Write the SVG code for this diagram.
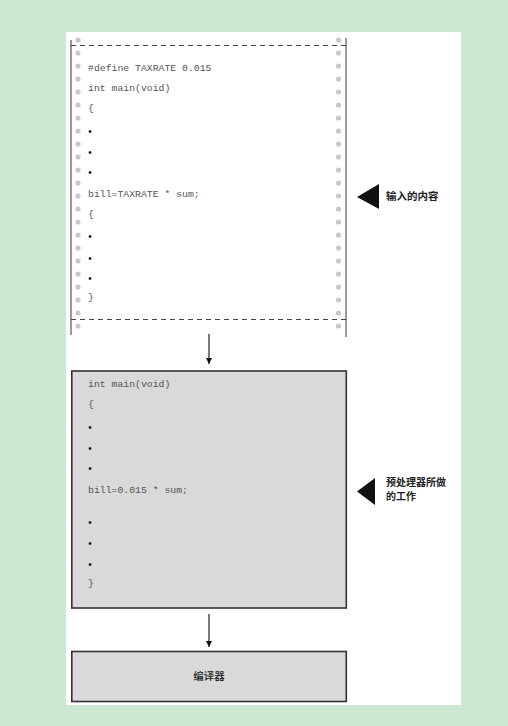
<svg xmlns="http://www.w3.org/2000/svg" width="508" height="726" viewBox="0 0 508 726">
<style>
.code{font-family:"Liberation Mono","Courier New",monospace;font-size:9.8px;fill:#555}
.bul{font-family:"Liberation Mono",monospace;font-size:10px;fill:#111}
.cjk{font-family:"Noto Sans CJK SC","Noto Sans CJK TC",sans-serif;font-size:10.5px;font-weight:600;fill:#222}
.box{fill:#d9d9d9;stroke:#333;stroke-width:1.6}
.edge{stroke:#555;stroke-width:1.2;fill:none}
.dash{stroke:#444;stroke-width:1;stroke-dasharray:5 4;fill:none}
.dot{fill:#c8c8c8}
.conn{stroke:#333;stroke-width:1.3;fill:none}
</style>
<defs>
<marker id="ah" viewBox="0 0 10 10" refX="10" refY="5" markerWidth="6" markerHeight="6" markerUnits="userSpaceOnUse" orient="auto">
<path d="M0,0 L10,5 L0,10 Z" fill="#111"/>
</marker>
<g id="dotcol">
<circle cx="0" cy="40" r="2.6"/><circle cx="0" cy="53" r="2.6"/><circle cx="0" cy="66" r="2.6"/><circle cx="0" cy="79" r="2.6"/><circle cx="0" cy="92" r="2.6"/><circle cx="0" cy="105" r="2.6"/><circle cx="0" cy="118" r="2.6"/><circle cx="0" cy="131" r="2.6"/><circle cx="0" cy="144" r="2.6"/><circle cx="0" cy="157" r="2.6"/><circle cx="0" cy="170" r="2.6"/><circle cx="0" cy="183" r="2.6"/><circle cx="0" cy="196" r="2.6"/><circle cx="0" cy="209" r="2.6"/><circle cx="0" cy="222" r="2.6"/><circle cx="0" cy="235" r="2.6"/><circle cx="0" cy="248" r="2.6"/><circle cx="0" cy="261" r="2.6"/><circle cx="0" cy="274" r="2.6"/><circle cx="0" cy="287" r="2.6"/><circle cx="0" cy="300" r="2.6"/><circle cx="0" cy="313" r="2.6"/><circle cx="0" cy="326" r="2.6"/>
</g>
</defs>
<rect x="0" y="0" width="508" height="726" fill="#cce8d0"/>
<rect x="66" y="32" width="395" height="673" fill="#ffffff"/>

<g id="input">
<line class="edge" x1="71" y1="40" x2="71" y2="335"/>
<line class="edge" x1="346" y1="38" x2="346" y2="337"/>
<line class="dash" x1="71" y1="45.5" x2="346" y2="45.5"/>
<line class="dash" x1="71" y1="319.5" x2="346" y2="319.5"/>
<use href="#dotcol" x="78" class="dot"/>
<use href="#dotcol" x="338.5" class="dot"/>
<text class="code" x="88" y="71">#define TAXRATE 0.015</text>
<text class="code" x="88" y="91">int main(void)</text>
<text class="code" x="88" y="111">{</text>
<text class="bul" x="87" y="135">•</text>
<text class="bul" x="87" y="156">•</text>
<text class="bul" x="87" y="176">•</text>
<text class="code" x="88" y="197">bill=TAXRATE * sum;</text>
<text class="code" x="88" y="217">{</text>
<text class="bul" x="87" y="240">•</text>
<text class="bul" x="87" y="262">•</text>
<text class="bul" x="87" y="282">•</text>
<text class="code" x="88" y="300">}</text>
</g>

<g id="label-input">
<polygon points="357,197 379,184 379,209" fill="#111"/>
<text class="cjk" x="386" y="200">输入的内容</text>
</g>

<g id="preprocessed">
<rect class="box" x="71.8" y="371" width="274.5" height="237"/>
<text class="code" x="88" y="387">int main(void)</text>
<text class="code" x="88" y="407">{</text>
<text class="bul" x="87" y="431">•</text>
<text class="bul" x="87" y="452">•</text>
<text class="bul" x="87" y="472">•</text>
<text class="code" x="88" y="493">bill=0.015 * sum;</text>
<text class="bul" x="87" y="526">•</text>
<text class="bul" x="87" y="547">•</text>
<text class="bul" x="87" y="568">•</text>
<text class="code" x="88" y="586">}</text>
</g>

<g id="label-preproc">
<polygon points="357,491.5 375,478 375,505" fill="#111"/>
<text class="cjk" x="386" y="486" style="font-size:10px">预处理器所做</text>
<text class="cjk" x="386" y="500" style="font-size:10px">的工作</text>
</g>

<g id="compiler">
<rect class="box" x="71.8" y="651.5" width="274.5" height="50"/>
<text class="cjk" x="209" y="680" text-anchor="middle" style="font-weight:500">编译器</text>
</g>

<g id="connectors">
<line class="conn" x1="209" y1="334" x2="209" y2="364" marker-end="url(#ah)"/>
<line class="conn" x1="209" y1="614" x2="209" y2="647" marker-end="url(#ah)"/>
</g>
</svg>
